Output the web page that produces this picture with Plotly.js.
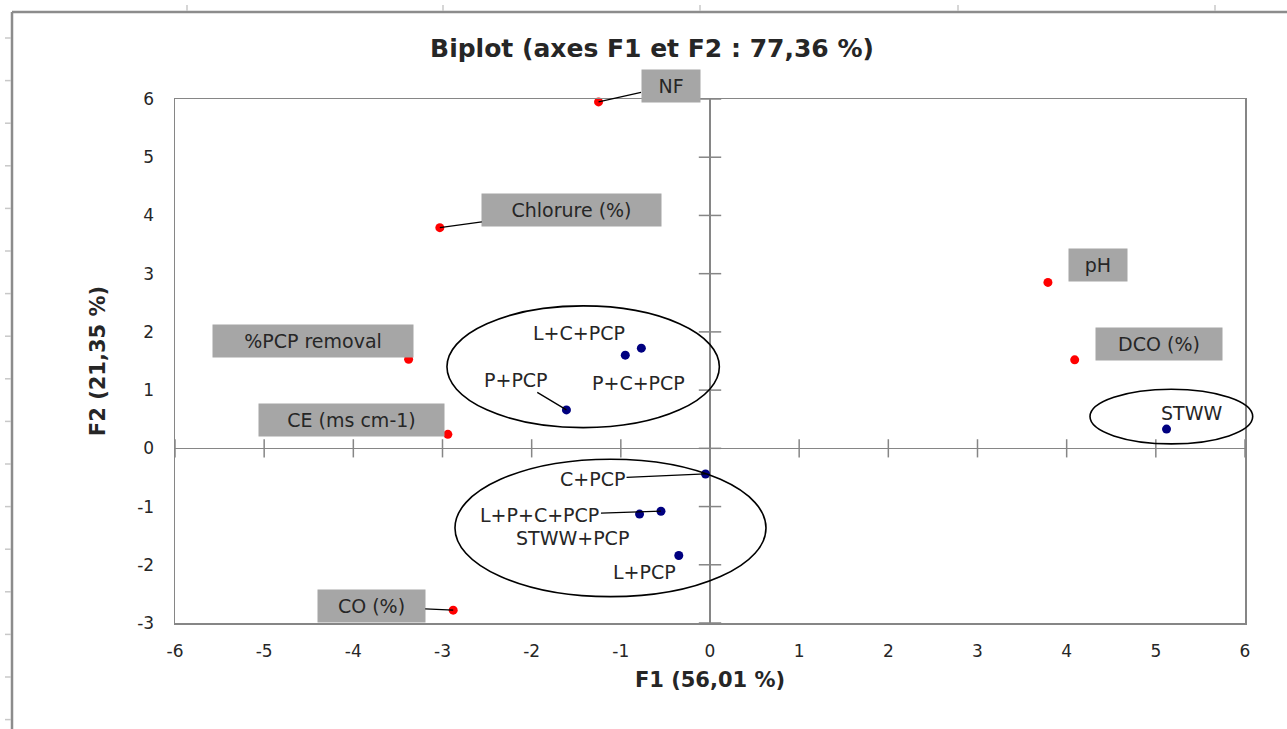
<!DOCTYPE html>
<html>
<head>
<meta charset="utf-8">
<script src="https://cdn.plot.ly/plotly-3.0.1.min.js"></script>
<style>
  html, body { margin: 0; padding: 0; background: #ffffff; }
  #chart { width: 1287px; height: 729px; }
</style>
</head>
<body>
<div id="chart"></div>
<script>
// ---- Data ----
const varNames = ['NF', 'Chlorure (%)', 'pH', 'DCO (%)', '%PCP removal', 'CE (ms cm-1)', 'CO (%)'];
const varF1 = [-1.25, -3.03, 3.79, 4.09, -3.38, -2.94, -2.88];
const varF2 = [5.95, 3.79, 2.85, 1.52, 1.53, 0.24, -2.78];

const obsNames = ['L+C+PCP', 'P+C+PCP', 'P+PCP', 'STWW', 'C+PCP', 'L+P+C+PCP', 'STWW+PCP', 'L+PCP'];
const obsF1 = [-0.95, -0.77, -1.61, 5.12, -0.05, -0.55, -0.79, -0.35];
const obsF2 = [1.60, 1.72, 0.66, 0.33, -0.44, -1.08, -1.13, -1.84];

const xTicks = [-6, -5, -4, -3, -2, -1, 0, 1, 2, 3, 4, 5, 6];
const yTicks = [-3, -2, -1, 0, 1, 2, 3, 4, 5, 6];

const chartTitle = 'Biplot (axes F1 et F2 : 77,36 %)';
const xTitle = 'F1 (56,01 %)';
const yTitle = 'F2 (21,35 %)';

// ---- Label placement (layout only) ----
const varLabelOffset = [[72, -16], [132, -18], [50, -17], [84, -16], [-96, -18], [-96, -14], [-82, -4]];
const varBoxWidth = [58, 179, 58, 126, 200, 185, 107];
const varLeader = [true, true, false, false, false, false, true];
const obsLabelOffset = [[-46, -22], [-3, 35], [-50, -30], [25, -16], [-113, 5], [-121, 4], [-67, 24], [-34, 17]];
const obsLeader = [false, false, true, false, true, true, false, false];

// ---- Geometry helpers for paper-space decorations ----
const W = 1287, H = 729;
const M = { l: 175, r: 42, t: 99, b: 106 };
const pw = W - M.l - M.r, ph = H - M.t - M.b;
const px2paperX = px => (px - M.l) / pw;
const py2paperY = py => (H - M.b - py) / ph;

const axisGray = '#868686';
const textDark = '#262626';
const font = 'DejaVu Sans, Verdana, sans-serif';

const traces = [
  {
    type: 'scatter', mode: 'markers', x: xTicks, y: xTicks.map(() => 0),
    marker: { symbol: 'line-ns-open', size: 13, color: axisGray, line: { color: axisGray, width: 1.5 } },
    hoverinfo: 'skip', showlegend: false, cliponaxis: false
  },
  {
    type: 'scatter', mode: 'markers', x: yTicks.map(() => 0), y: yTicks,
    marker: { symbol: 'line-ew-open', size: 16, color: axisGray, line: { color: axisGray, width: 1.5 } },
    hoverinfo: 'skip', showlegend: false, cliponaxis: false
  },
  {
    type: 'scatter', mode: 'markers', x: varF1, y: varF2, text: varNames,
    marker: { color: '#ff0000', size: 9 }, showlegend: false, cliponaxis: false
  },
  {
    type: 'scatter', mode: 'markers', x: obsF1, y: obsF2, text: obsNames,
    marker: { color: '#000080', size: 9 }, showlegend: false, cliponaxis: false
  }
];

const annotations = [];
varNames.forEach((name, i) => {
  annotations.push({
    x: varF1[i], y: varF2[i], xref: 'x', yref: 'y', text: name,
    showarrow: true, arrowhead: 0, arrowwidth: 1.3, standoff: 0,
    arrowcolor: varLeader[i] ? '#000000' : 'rgba(0,0,0,0)',
    ax: varLabelOffset[i][0], ay: varLabelOffset[i][1],
    bgcolor: '#a6a6a6', borderpad: 0, width: varBoxWidth[i], height: 32,
    font: { family: font, size: 19, color: textDark }
  });
});
obsNames.forEach((name, i) => {
  annotations.push({
    x: obsF1[i], y: obsF2[i], xref: 'x', yref: 'y', text: name,
    showarrow: true, arrowhead: 0, arrowwidth: 1.3, standoff: 0,
    arrowcolor: obsLeader[i] ? '#000000' : 'rgba(0,0,0,0)',
    ax: obsLabelOffset[i][0], ay: obsLabelOffset[i][1],
    font: { family: font, size: 19, color: textDark }
  });
});

const shapes = [
  // group ellipses
  { type: 'circle', xref: 'x', yref: 'y', x0: -2.95, x1: 0.105, y0: 0.356, y1: 2.446,
    line: { color: '#000000', width: 1.6 } },
  { type: 'circle', xref: 'x', yref: 'y', x0: -2.86, x1: 0.628, y0: -2.547, y1: -0.187,
    line: { color: '#000000', width: 1.6 } },
  { type: 'circle', xref: 'paper', yref: 'y', x0: px2paperX(1090), x1: px2paperX(1252.7), y0: 0.076, y1: 1.015,
    line: { color: '#000000', width: 1.6 } },
  // outer chart frame (left & top edges visible)
  { type: 'line', xref: 'paper', yref: 'paper', x0: px2paperX(12), x1: px2paperX(12), y0: py2paperY(12), y1: py2paperY(729),
    line: { color: '#8c8c8c', width: 2.5 } },
  { type: 'line', xref: 'paper', yref: 'paper', x0: px2paperX(12), x1: px2paperX(1287), y0: py2paperY(12), y1: py2paperY(12),
    line: { color: '#8c8c8c', width: 2.5 } }
];
// spreadsheet grid stubs outside the chart frame
[187, 443, 700, 958, 1215].forEach(px => shapes.push({
  type: 'line', xref: 'paper', yref: 'paper', x0: px2paperX(px), x1: px2paperX(px), y0: py2paperY(5), y1: py2paperY(11),
  line: { color: '#c8c8c8', width: 1.5 }
}));
for (let py = 38; py < 729; py += 42.6) {
  shapes.push({
    type: 'line', xref: 'paper', yref: 'paper', x0: px2paperX(5), x1: px2paperX(11), y0: py2paperY(py), y1: py2paperY(py),
    line: { color: '#c8c8c8', width: 1.5 }
  });
}

const layout = {
  width: W, height: H,
  margin: M,
  paper_bgcolor: '#ffffff', plot_bgcolor: '#ffffff',
  showlegend: false, hovermode: false,
  title: {
    text: '<b>' + chartTitle + '</b>', xref: 'container', x: 652 / W, xanchor: 'center',
    yref: 'container', y: 1 - 48 / H, yanchor: 'middle',
    font: { family: font, size: 25, color: textDark }
  },
  xaxis: {
    range: [-6, 6], tickvals: xTicks, ticktext: xTicks.map(String),
    showgrid: false, zeroline: true, zerolinecolor: axisGray, zerolinewidth: 1.5,
    showline: true, mirror: true, linecolor: axisGray, linewidth: 1.5,
    ticks: '', ticklabelstandoff: 12,
    tickfont: { family: font, size: 17, color: textDark },
    title: { text: '<b>' + xTitle + '</b>', standoff: 12, font: { family: font, size: 21, color: textDark } },
    fixedrange: true
  },
  yaxis: {
    range: [-3, 6], tickvals: yTicks, ticktext: yTicks.map(String),
    showgrid: false, zeroline: true, zerolinecolor: axisGray, zerolinewidth: 1.5,
    showline: true, mirror: true, linecolor: axisGray, linewidth: 1.5,
    ticks: '', ticklabelstandoff: 16,
    tickfont: { family: font, size: 17, color: textDark },
    title: { text: '<b>' + yTitle + '</b>', standoff: 26, font: { family: font, size: 21, color: textDark } },
    fixedrange: true
  },
  annotations: annotations,
  shapes: shapes
};

Plotly.newPlot('chart', traces, layout, { displayModeBar: false, staticPlot: true });
</script>
</body>
</html>
